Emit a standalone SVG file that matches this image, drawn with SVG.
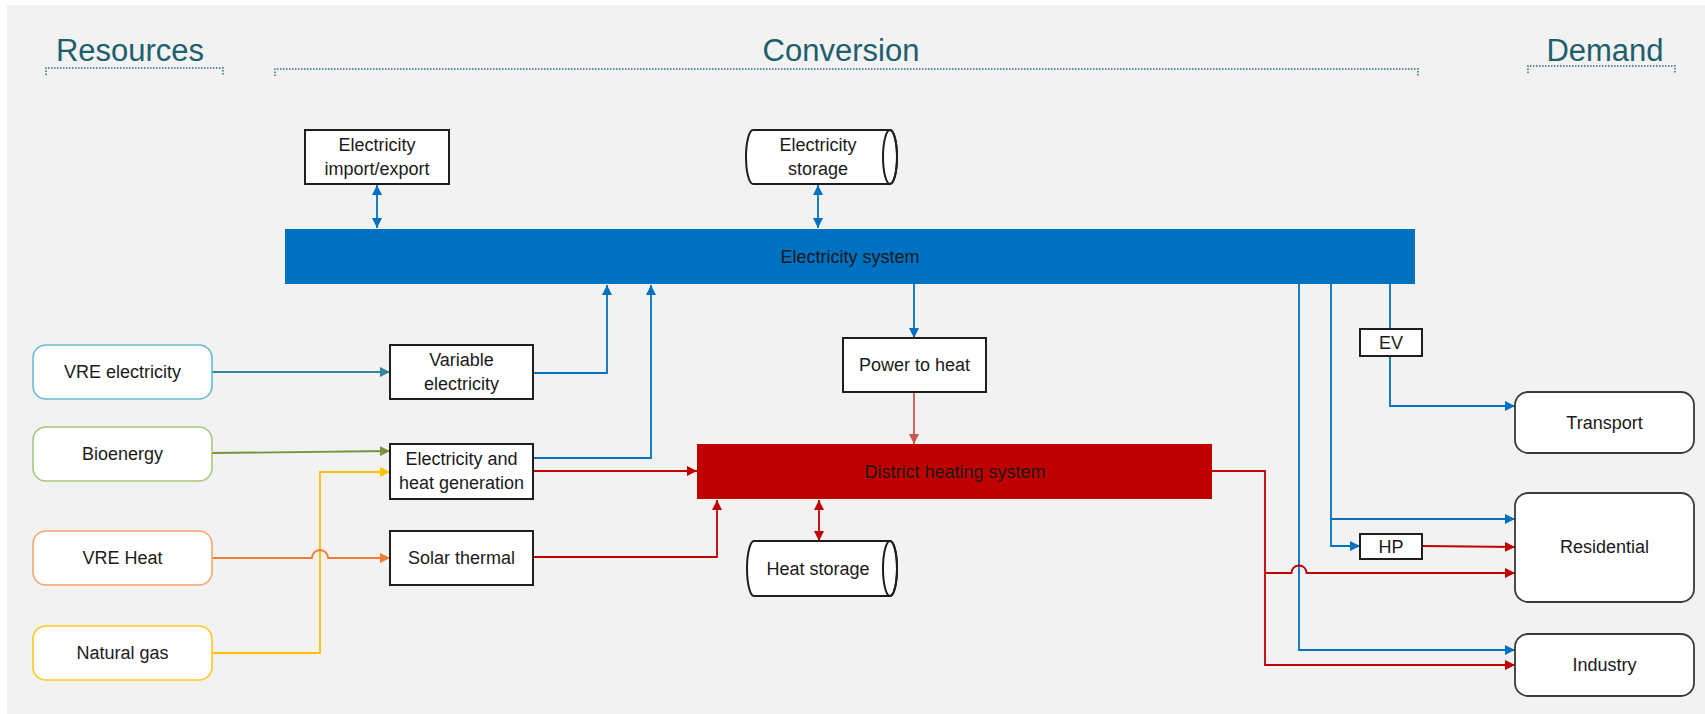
<svg xmlns="http://www.w3.org/2000/svg" width="1705" height="714" viewBox="0 0 1705 714">
<style>
text{font-family:"Liberation Sans",Arial,sans-serif;font-size:18px;fill:#1a1a1a;text-anchor:middle}
.hdr{font-size:31px;fill:#215e6c}
.dot{fill:none;stroke:#2e6a78;stroke-width:1.5;stroke-dasharray:1.5 1.5}
.box{fill:#fff;stroke:#1e1e1e;stroke-width:2}
.dem{fill:#fff;stroke:#3a3a3a;stroke-width:1.8}
.res{fill:#fff;stroke-width:1.6}
.c{fill:none;stroke-width:1.8}
.b{stroke:#0070c0}.r{stroke:#c00000}
</style>
<defs>
<marker id="ab" viewBox="0 0 10 10" refX="10" refY="5" markerWidth="10" markerHeight="10" markerUnits="userSpaceOnUse" orient="auto-start-reverse"><path d="M0,0L10,5L0,10z" fill="#0070c0"/></marker>
<marker id="ar" viewBox="0 0 10 10" refX="10" refY="5" markerWidth="10" markerHeight="10" markerUnits="userSpaceOnUse" orient="auto-start-reverse"><path d="M0,0L10,5L0,10z" fill="#c00000"/></marker>
<marker id="alr" viewBox="0 0 10 10" refX="10" refY="5" markerWidth="10" markerHeight="10" markerUnits="userSpaceOnUse" orient="auto"><path d="M0,0L10,5L0,10z" fill="#c55a4f"/></marker>
<marker id="at" viewBox="0 0 10 10" refX="10" refY="5" markerWidth="10" markerHeight="10" markerUnits="userSpaceOnUse" orient="auto"><path d="M0,0L10,5L0,10z" fill="#31859c"/></marker>
<marker id="ag" viewBox="0 0 10 10" refX="10" refY="5" markerWidth="10" markerHeight="10" markerUnits="userSpaceOnUse" orient="auto"><path d="M0,0L10,5L0,10z" fill="#77933c"/></marker>
<marker id="ay" viewBox="0 0 10 10" refX="10" refY="5" markerWidth="10" markerHeight="10" markerUnits="userSpaceOnUse" orient="auto"><path d="M0,0L10,5L0,10z" fill="#ffc000"/></marker>
<marker id="ao" viewBox="0 0 10 10" refX="10" refY="5" markerWidth="10" markerHeight="10" markerUnits="userSpaceOnUse" orient="auto"><path d="M0,0L10,5L0,10z" fill="#ed7d31"/></marker>
</defs>
<rect x="0" y="0" width="1705" height="714" fill="#fff"/>
<rect x="7" y="5" width="1698" height="709" fill="#f2f2f2"/>

<g id="headers">
<text class="hdr" x="130" y="61">Resources</text>
<path class="dot" d="M46,75V68H223V75"/>
<text class="hdr" x="841" y="61">Conversion</text>
<path class="dot" d="M275,76V69H1418V76"/>
<text class="hdr" x="1605" y="61">Demand</text>
<path class="dot" d="M1528,73V66H1675V73"/>
</g>

<g id="connectors">
<path class="c b" d="M377,185V228" marker-start="url(#ab)" marker-end="url(#ab)"/>
<path class="c b" d="M818,185V228" marker-start="url(#ab)" marker-end="url(#ab)"/>
<path class="c b" d="M533,373H607V285" marker-end="url(#ab)"/>
<path class="c b" d="M533,458H651V285" marker-end="url(#ab)"/>
<path class="c b" d="M914,284V338" marker-end="url(#ab)"/>
<path class="c b" d="M1390,284V329"/>
<path class="c b" d="M1390,356V406H1515" marker-end="url(#ab)"/>
<path class="c b" d="M1331,284V519H1515" marker-end="url(#ab)"/>
<path class="c b" d="M1331,519V546H1360" marker-end="url(#ab)"/>
<path class="c b" d="M1299,284V650H1515" marker-end="url(#ab)"/>
<path class="c r" d="M533,471H697" marker-end="url(#ar)"/>
<path class="c r" d="M533,557H717V500" marker-end="url(#ar)"/>
<path class="c r" d="M819,500V541" marker-start="url(#ar)" marker-end="url(#ar)"/>
<path class="c r" d="M1212,471H1265V665H1515" marker-end="url(#ar)"/>
<path class="c r" d="M1265,573H1291.5A7.5,7.5 0 0 1 1306.5,573H1515" marker-end="url(#ar)"/>
<path class="c r" d="M1422,546L1515,547" marker-end="url(#ar)"/>
<path class="c" stroke="#c55a4f" d="M914,392V444" marker-end="url(#alr)"/>
<path class="c" stroke="#31859c" d="M212,372H390" marker-end="url(#at)"/>
<path class="c" stroke="#77933c" d="M212,453L390,451" marker-end="url(#ag)"/>
<path class="c" stroke="#ffc000" d="M212,653H320V472H390" marker-end="url(#ay)"/>
<path class="c" stroke="#ed7d31" d="M212,558H312A8,8 0 0 1 328,558H390" marker-end="url(#ao)"/>
</g>

<g id="elec-system"><rect x="285" y="229" width="1130" height="55" fill="#0070c0"/><text x="850" y="263" fill="#111">Electricity system</text></g>
<g id="dh-system"><rect x="697" y="444" width="515" height="55" fill="#c00000"/><text x="955" y="478" fill="#111">District heating system</text></g>

<g id="import-export"><rect class="box" x="305" y="130" width="144" height="54"/><text x="377" y="151">Electricity</text><text x="377" y="175">import/export</text></g>
<g id="elec-storage"><path class="box" d="M753,130H890A7,27 0 0 1 890,184H753A7,27 0 0 1 753,130z"/><ellipse cx="890" cy="157" rx="7" ry="27" fill="none" stroke="#1e1e1e" stroke-width="2"/><text x="818" y="151">Electricity</text><text x="818" y="175">storage</text></g>
<g id="variable-elec"><rect class="box" x="390" y="345" width="143" height="54"/><text x="461.5" y="366">Variable</text><text x="461.5" y="390">electricity</text></g>
<g id="chp"><rect class="box" x="390" y="444" width="143" height="55"/><text x="461.5" y="465">Electricity and</text><text x="461.5" y="489">heat generation</text></g>
<g id="solar-thermal"><rect class="box" x="390" y="531" width="143" height="54"/><text x="461.5" y="564">Solar thermal</text></g>
<g id="power-to-heat"><rect class="box" x="843" y="338" width="143" height="54"/><text x="914.5" y="371">Power to heat</text></g>
<g id="heat-storage"><path class="box" d="M754,541H890A7,27.5 0 0 1 890,596H754A7,27.5 0 0 1 754,541z"/><ellipse cx="890" cy="568.5" rx="7" ry="27.5" fill="none" stroke="#1e1e1e" stroke-width="2"/><text x="818" y="575">Heat storage</text></g>
<g id="ev"><rect class="box" x="1360" y="329" width="62" height="27"/><text x="1391" y="349">EV</text></g>
<g id="hp"><rect class="box" x="1360" y="534" width="62" height="25"/><text x="1391" y="553">HP</text></g>

<g id="vre-elec"><rect class="res" x="33" y="345" width="179" height="54" rx="13" stroke="#69b9d6"/><text x="122.5" y="378" fill="#31849b">VRE electricity</text></g>
<g id="bioenergy"><rect class="res" x="33" y="427" width="179" height="54" rx="13" stroke="#a9c77a"/><text x="122.5" y="460" fill="#4f6228">Bioenergy</text></g>
<g id="vre-heat"><rect class="res" x="33" y="531" width="179" height="54" rx="13" stroke="#f8a66c"/><text x="122.5" y="564" fill="#974806">VRE Heat</text></g>
<g id="natural-gas"><rect class="res" x="33" y="626" width="179" height="54" rx="13" stroke="#ffc71f"/><text x="122.5" y="659" fill="#7f6000">Natural gas</text></g>

<g id="transport"><rect class="dem" x="1515" y="392" width="179" height="61" rx="13"/><text x="1604.5" y="429">Transport</text></g>
<g id="residential"><rect class="dem" x="1515" y="493" width="179" height="109" rx="13"/><text x="1604.5" y="553">Residential</text></g>
<g id="industry"><rect class="dem" x="1515" y="634" width="179" height="62" rx="13"/><text x="1604.5" y="671">Industry</text></g>
</svg>
